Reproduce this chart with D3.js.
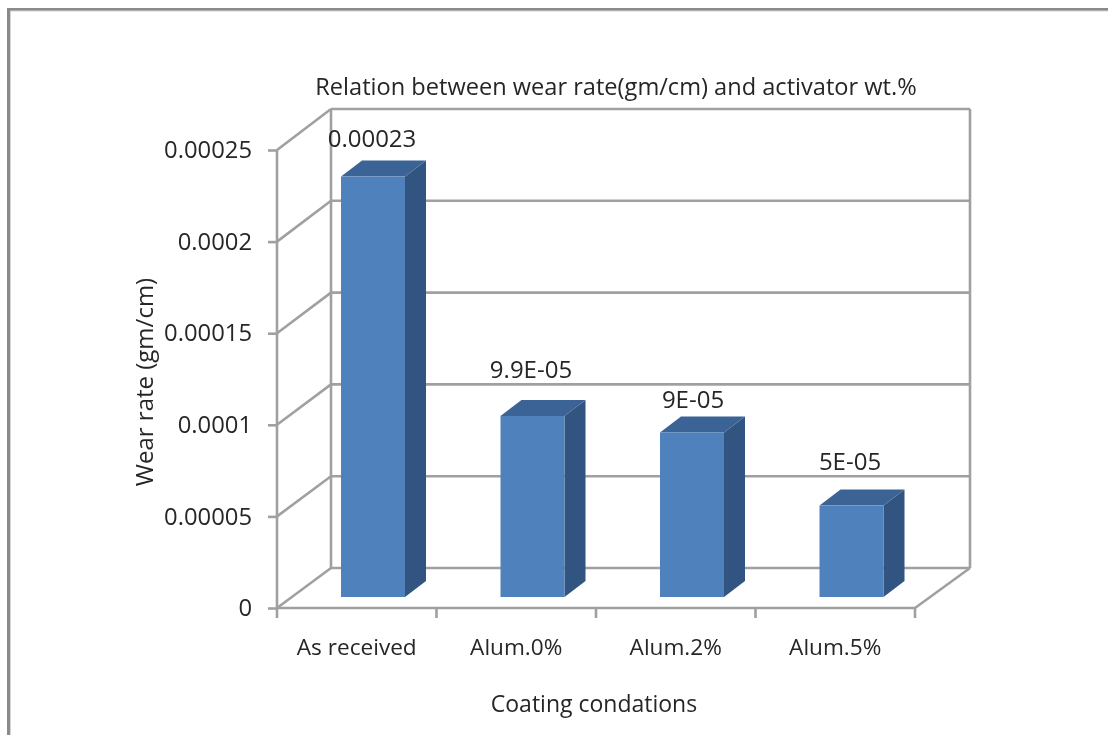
<!DOCTYPE html>
<html><head><meta charset="utf-8">
<script src="https://cdn.jsdelivr.net/npm/d3@7"></script>
<style>html,body{margin:0;padding:0;background:#fff;overflow:hidden}svg{display:block;filter:blur(.5px)}text{font-family:"Open Sans",sans-serif;fill:#262626}</style>
</head><body><svg id="c" width="1108" height="735"></svg>
<script>
const categories=["As received","Alum.0%","Alum.2%","Alum.5%"];
const wearRate=[0.00023,0.000099,0.00009,0.00005];
const barLabels=["0.00023","9.9E-05","9E-05","5E-05"];
const tickValues=[0,0.00005,0.0001,0.00015,0.0002,0.00025];
const tickLabels=["0","0.00005","0.0001","0.00015","0.0002","0.00025"];
const titleText="Relation between wear rate(gm/cm) and activator wt.%";
const xTitle="Coating condations";
const yTitle="Wear rate (gm/cm)";

const svg=d3.select("#c");
const grey="#a0a0a0";
const sw=2.6;
svg.append("path").attr("d","M8.5 735V9.5H1108").attr("fill","none").attr("stroke","#8a8a8a").attr("stroke-width",3);
svg.append("path").attr("d","M10.5 735V11H1108").attr("fill","none").attr("stroke","#d5d5d5").attr("stroke-width",1);

const x=d3.scaleBand().domain(categories).range([277,915]);
const yFront=d3.scaleLinear().domain([0,0.00025]).range([608,150]);
const yWall=d3.scaleLinear().domain([0,0.00025]).range([568,109]);
const yBar=d3.scaleLinear().domain([0,0.00025]).range([597,140]);
const backDx=54, wallRight=970;
const barW=64, barDx=21, barDy=16, barOff=64;

const g=svg.append("g").attr("fill","none").attr("stroke",grey).attr("stroke-width",sw);
tickValues.forEach(v=>{
  g.append("line").attr("x1",277+backDx).attr("x2",wallRight).attr("y1",yWall(v)).attr("y2",yWall(v));
  g.append("line").attr("x1",277).attr("x2",277+backDx).attr("y1",yFront(v)).attr("y2",yWall(v));
});
g.append("line").attr("x1",331).attr("x2",331).attr("y1",yWall(0.00025)).attr("y2",yWall(0));
g.append("line").attr("x1",wallRight).attr("x2",wallRight).attr("y1",yWall(0.00025)).attr("y2",yWall(0));
g.append("line").attr("x1",915).attr("x2",wallRight).attr("y1",yFront(0)).attr("y2",yWall(0));

const ya=d3.axisLeft(yFront).tickValues(tickValues).tickSize(9).tickPadding(16).tickFormat((d,i)=>tickLabels[i]);
const ay=svg.append("g").attr("transform","translate(277,0)").call(ya);
const xa=d3.axisBottom(x).tickSize(0).tickPadding(31);
const ax=svg.append("g").attr("transform","translate(0,608)").call(xa);
[ay,ax].forEach(a=>{a.selectAll("path").attr("stroke",grey).attr("stroke-width",sw);a.selectAll("line").attr("stroke",grey).attr("stroke-width",sw);a.selectAll("text").attr("font-family",'"Open Sans",sans-serif').attr("font-size",23.8).attr("fill","#262626");});
ay.select("path").attr("d","M0 150V608");
ax.select("path").attr("d","M277 0H915");
ax.selectAll("text").attr("font-size",22.6);
const edges=categories.map(c=>x(c)).concat([915]);
svg.append("g").selectAll("line").data(edges).join("line").attr("x1",d=>d).attr("x2",d=>d).attr("y1",608).attr("y2",618).attr("stroke",grey).attr("stroke-width",sw);

const bars=svg.append("g").selectAll("g").data(categories).join("g");
const X=c=>x(c)+barOff;
bars.append("path").attr("fill","#325480").attr("d",(c,i)=>{const l=X(c)+barW,t=yBar(wearRate[i]),b=yBar(0);return `M${l} ${t}l${barDx} ${-barDy}V${b-barDy}l${-barDx} ${barDy}Z`;});
bars.append("path").attr("fill","#3b6395").attr("d",(c,i)=>{const l=X(c),t=yBar(wearRate[i]);return `M${l} ${t}l${barDx} ${-barDy}h${barW}l${-barDx} ${barDy}Z`;});
bars.append("rect").attr("fill","#4f81bd").attr("x",X).attr("width",barW).attr("y",(c,i)=>yBar(wearRate[i])).attr("height",(c,i)=>yBar(0)-yBar(wearRate[i]));

const labelY=[147,378,408,470], labelX=[372,531,693,850];
svg.append("g").selectAll("text").data(barLabels).join("text").attr("x",(d,i)=>labelX[i]).attr("y",(d,i)=>labelY[i]).attr("text-anchor","middle").attr("font-size",24).text(d=>d);
svg.append("text").attr("x",616).attr("y",95).attr("text-anchor","middle").attr("font-size",23.6).text(titleText);
svg.append("text").attr("x",594).attr("y",712).attr("text-anchor","middle").attr("font-size",23).text(xTitle);
svg.append("text").attr("transform","translate(153,382) rotate(-90)").attr("text-anchor","middle").attr("font-size",24).text(yTitle);
</script></body></html>
